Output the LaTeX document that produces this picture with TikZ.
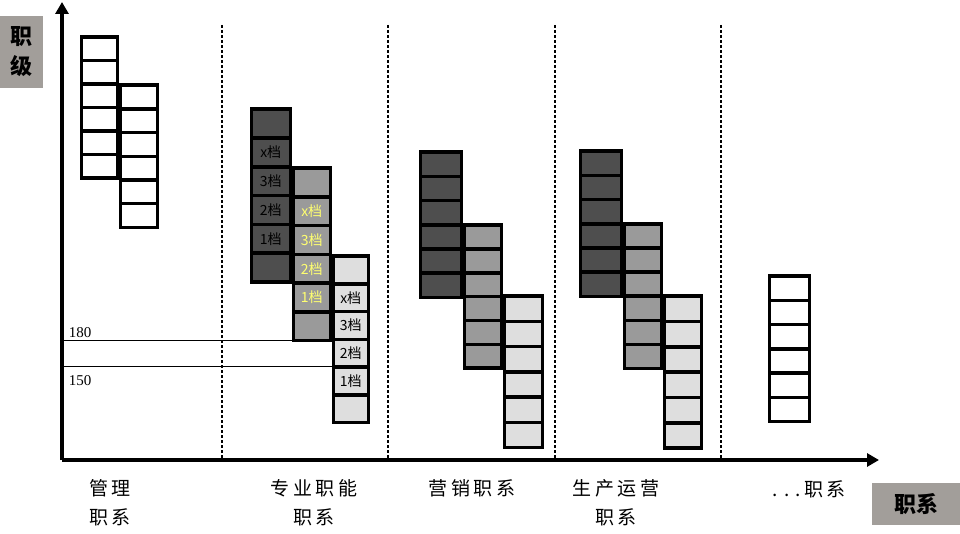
\documentclass[tikz,border=0pt]{standalone}
\usepackage{fontspec}
\setmainfont{Liberation Serif}
\newfontfamily\cjk{Noto Sans CJK SC}
\newfontfamily\cjksp[LetterSpace=18]{Noto Sans CJK SC}
\usetikzlibrary{arrows.meta}
\definecolor{dk}{HTML}{4E4E4E}
\definecolor{md}{HTML}{9A9A9A}
\definecolor{lt}{HTML}{DEDEDE}
\definecolor{yl}{HTML}{FFFF70}
\definecolor{tagbg}{HTML}{A29E9A}
\newcommand\gradecol[7]{% name, x, y0, w, h, style, labels (x,y0,w measured at outer edges)
  \foreach \i/\t in #7
    \node[cell, #6, minimum width={#4-3}, minimum height={#5-0.5}] (#1\i) at ({#2+1.5},{#3+1.5+(\i-1)*(#5-0.5)}) {\t};}
\def\nolabels{1/{},2/{},3/{},4/{},5/{},6/{}}
\def\grades{1/{},2/x档,3/3档,4/2档,5/1档,6/{}}
\begin{document}
\begin{tikzpicture}[x=1pt,y=-1pt,
  cell/.style={draw=black, line width=3.5pt, inner sep=0pt, anchor=north west,
    font=\cjk\fontsize{14}{14}\selectfont},
  plaincell/.style={fill=white},
  darkcell/.style={fill=dk, text=black},
  midcell/.style={fill=md, text=yl},
  lightcell/.style={fill=lt, text=black},
  axisline/.style={line width=3.5pt, -{Triangle[length=12pt,width=13pt]}},
  sepline/.style={line width=1.5pt, dash pattern=on 3pt off 2pt},
  refline/.style={line width=0.8pt},
  captxt/.style={font=\cjksp\fontsize{19}{29}\selectfont, align=center},
  numtxt/.style={font=\fontsize{15}{15}\selectfont},
  tagbox/.style={fill=tagbg, inner sep=0pt, font=\cjk\bfseries\fontsize{22}{30}\selectfont, align=center}]
\useasboundingbox (0,0) rectangle (960,534);
\fill[white] (0,0) rectangle (960,534);
% axes
\coordinate (o) at (62,460);
\coordinate (ytip) at (62,2);
\coordinate (xtip) at (879,460);
\draw[axisline] (o) -- (ytip);
\draw[axisline] (o) -- (xtip);
% separators
\foreach \x/\n in {222/a,388/b,555/c,721/d}{
  \coordinate (s\n t) at (\x,25);
  \coordinate (s\n b) at (\x,458);
  \draw[sepline] (s\n t) -- (s\n b);}
% management
\gradecol{ma}{78}{34}{39}{24}{plaincell}{\nolabels}
\gradecol{mb}{117}{82}{40}{24.2}{plaincell}{\nolabels}
% professional
\gradecol{pa}{248}{106}{42}{29.3}{darkcell}{\grades}
\gradecol{pb}{290}{165}{40}{29.2}{midcell}{\grades}
\gradecol{pc}{330}{253}{38}{28.2}{lightcell}{\grades}
% marketing
\gradecol{ka}{417}{149}{44}{24.7}{darkcell}{\nolabels}
\gradecol{kb}{461}{222}{40}{24.3}{midcell}{\nolabels}
\gradecol{kc}{501}{293}{41}{25.7}{lightcell}{\nolabels}
% production
\gradecol{sa}{577}{148}{44}{24.7}{darkcell}{\nolabels}
\gradecol{sb}{621}{221}{40}{24.5}{midcell}{\nolabels}
\gradecol{sc}{661}{293}{40}{25.8}{lightcell}{\nolabels}
% others
\gradecol{oa}{766}{273}{43}{24.7}{plaincell}{\nolabels}
% reference lines
\coordinate (r180) at (63,340);
\coordinate (r150) at (63,366);
\draw[refline] (r180) -- (r180 -| pc1.west);
\draw[refline] (r150) -- (r150 -| pc1.west);
\node[numtxt] (n180) at (80,333) {180};
\node[numtxt] (n150) at (80,381) {150};
% captions
\node[captxt] (c1) at (110,503) {管理\\职系};
\node[captxt] (c2) at (314,503) {专业职能\\职系};
\node[captxt] (c3) at (472,488) {营销职系};
\node[captxt] (c4) at (616,503) {生产运营\\职系};
\node[captxt] (c5) at (809,489) {.\,\,.\,\,.\,职系};
% axis tags
\node[tagbox, minimum width=43pt, minimum height=72pt] (tj) at (21.5,52) {职\\级};
\node[tagbox, minimum width=88pt, minimum height=42pt] (tx) at (916,504) {职系};
\end{tikzpicture}
\end{document}
